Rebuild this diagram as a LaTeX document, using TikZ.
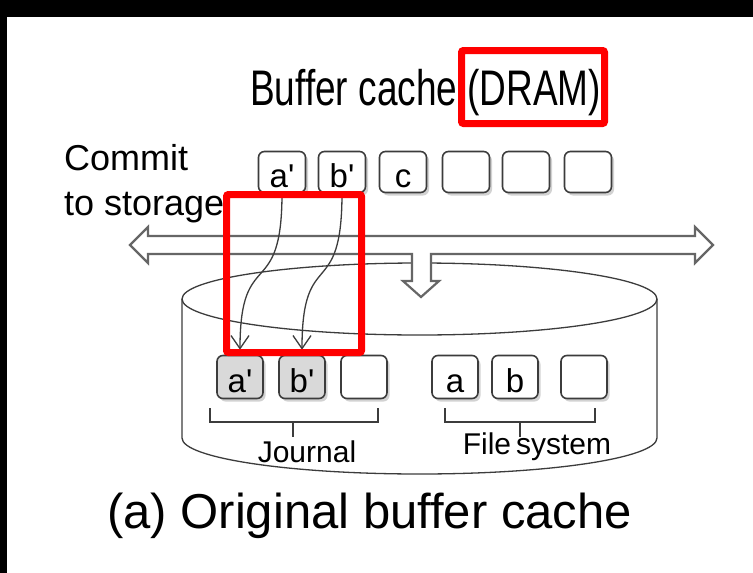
\documentclass[tikz,border=0pt]{standalone}
\usepackage{fontspec}
\setmainfont{Liberation Sans}
\newfontfamily\narrowfont{Liberation Sans}[FakeStretch=0.74]
\usetikzlibrary{arrows.meta,shadows}
\definecolor{framered}{RGB}{255,0,0}
\definecolor{lineg}{RGB}{60,60,60}
\definecolor{jgray}{RGB}{217,217,217}
\newcommand{\pr}{\textquotesingle}
\tikzset{
  blk/.style={draw=lineg, line width=1.6pt, rounded corners=6pt, fill=white,
    minimum width=47pt, minimum height=41pt, inner sep=0pt,
    text height=30pt, text depth=0pt,
    font=\fontsize{33}{33}\selectfont,
    drop shadow={shadow xshift=2.5pt, shadow yshift=-3pt, opacity=0.35}},
  dblk/.style={blk, minimum width=46pt, minimum height=43pt},
  oldblk/.style={dblk, fill=jgray},
  hilite/.style={draw=framered, line width=7pt, rounded corners=2pt},
  commit/.style={draw=lineg, line width=1.3pt, shorten >=5pt,
    -{Straight Barb[length=13pt,width=18pt]}},
  brace/.style={draw=lineg, line width=1.4pt},
}
\begin{document}
\begin{tikzpicture}[x=1pt,y=-1pt]
  \fill[black] (0,0) rectangle (753,573);
  \fill[white] (7,17) rectangle (753,573);

  \node[anchor=base west, inner sep=0pt, font=\narrowfont\fontsize{50}{50}\selectfont] (title) at (250,105) {Buffer cache (DRAM)};
  \node[anchor=north west, inner sep=0pt, align=left, font=\fontsize{36}{45}\selectfont] (commit) at (64,144) {Commit\\to storage};

  % buffer cache
  \node[blk] (ta) at (282,172) {a\pr};
  \node[blk] (tb) at (342,172) {b\pr};
  \node[blk] (tc) at (403,172) {c};
  \node[blk] (t4) at (466,172) {};
  \node[blk] (t5) at (526,172) {};
  \node[blk] (t6) at (588,172) {};

  % storage
  \draw[lineg, line width=1.3pt, fill=white] (182,299) -- (182,438)
    arc[start angle=180, end angle=0, x radius=237.5, y radius=36] -- (657,299);
  \draw[lineg, line width=1.3pt, fill=white] (419.5,299) ellipse [x radius=237.5, y radius=36];

  \draw[draw=black!60, line width=2.2pt, fill=white, line join=miter]
    (130,245) -- (148,227) -- (148,236) -- (695,236) -- (695,227) -- (713,245)
    -- (695,263) -- (695,254) -- (431,254) -- (431,281) -- (439,281) -- (421,297)
    -- (403,281) -- (412,281) -- (412,254) -- (148,254) -- (148,263) -- cycle;

  \node[oldblk] (ja) at (240,377) {a\pr};
  \node[oldblk] (jb) at (302,377) {b\pr};
  \node[dblk] (j3) at (364,377) {};
  \node[dblk] (fa) at (455,377) {a};
  \node[dblk] (fb) at (515,377) {b};
  \node[dblk] (f3) at (584,377) {};

  \draw[brace] (210,408) -- (210,422) -- (378,422) -- (378,408) (293,422) -- (293,437);
  \draw[brace] (445,408) -- (445,422) -- (595,422) -- (595,408) (520,422) -- (520,437);
  \node[font=\fontsize{30}{30}\selectfont, inner sep=0pt] (jlabel) at (307,452) {Journal};
  \node[font=\fontsize{30}{30}\selectfont, inner sep=0pt] (flabel) at (537,447) {File\,system};

  \draw[commit] (ta.south) .. controls +(0,110) and +(0,-110) .. (ja.north);
  \draw[commit] (tb.south) .. controls +(0,110) and +(0,-110) .. (jb.north);

  \draw[hilite] (461.5,50.5) rectangle (604.5,123.5);
  \draw[hilite] (226.5,194.5) rectangle (361.5,352.5);

  \node[anchor=base west, inner sep=0pt, font=\fontsize{49}{49}\selectfont] (caption) at (107,528) {(a) Original buffer cache};
\end{tikzpicture}
\end{document}
